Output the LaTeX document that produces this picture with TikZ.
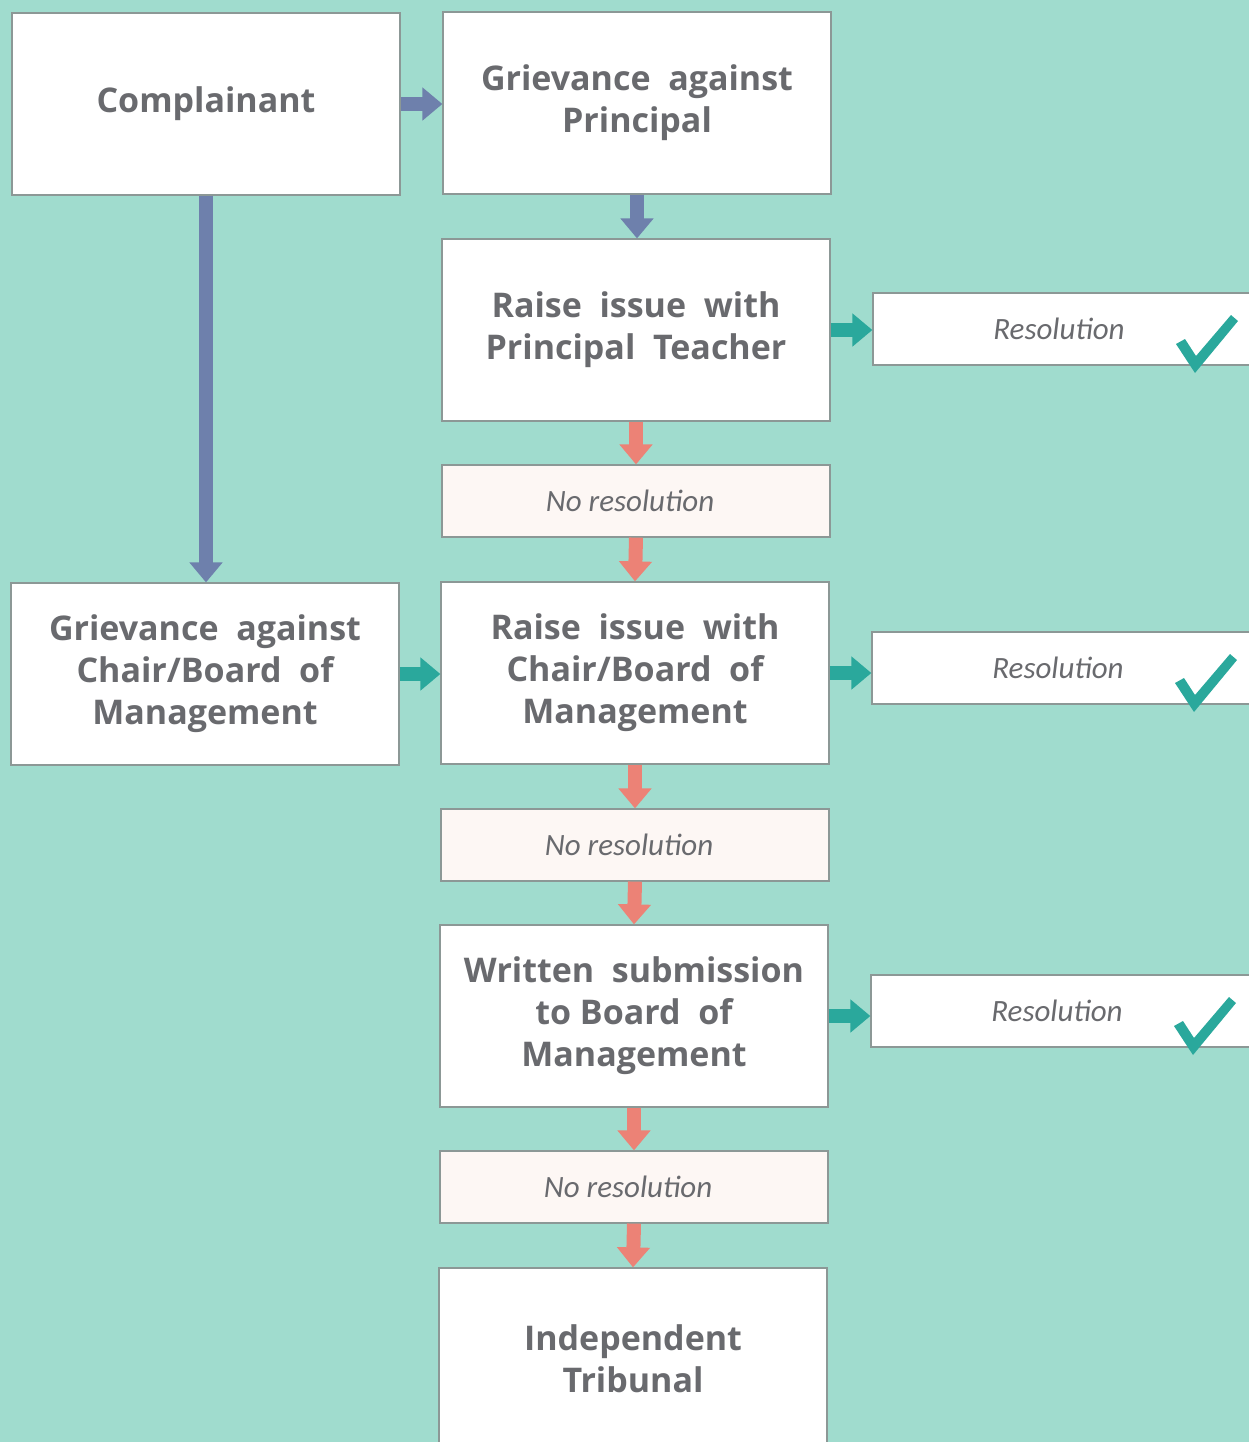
\documentclass[tikz,border=0pt]{standalone}
\usepackage{fontspec}
\setmainfont{Open Sans}
\newfontfamily\resfont{Carlito}
\usetikzlibrary{arrows.meta}

\definecolor{bgteal}{RGB}{160,220,206}
\definecolor{boxline}{RGB}{140,152,150}
\definecolor{txtgray}{RGB}{105,106,110}
\definecolor{slate}{RGB}{110,128,172}
\definecolor{salmon}{RGB}{236,130,118}
\definecolor{tealgreen}{RGB}{42,168,156}
\definecolor{pinkwhite}{RGB}{253,247,244}

\tikzset{
    stepbox/.style={draw=boxline, line width=0.6pt, fill=white,
        minimum width=194pt, minimum height=91pt, inner sep=0pt,
        align=center, text=txtgray,
        font=\bfseries\fontsize{17}{21}\selectfont},
    noresbox/.style={draw=boxline, line width=0.6pt, fill=pinkwhite,
        minimum width=194pt, minimum height=36pt, inner sep=0pt,
        text=txtgray, font=\resfont\itshape\fontsize{15.5}{18}\selectfont},
    resbox/.style={noresbox, fill=white},
    blockarrow/.style={line width=7pt, -{Triangle[width=16pt,length=10pt]}},
    slatearrow/.style={blockarrow, draw=slate},
    salmonarrow/.style={blockarrow, draw=salmon},
    tealarrow/.style={blockarrow, draw=tealgreen}
}

\begin{document}
\begin{tikzpicture}[x=0.5pt, y=-0.5pt]
% background
\fill[bgteal] (0,0) rectangle (1249,1442);
\useasboundingbox (0,0) rectangle (1249,1442);

% left column
\node[stepbox] (complainant) at (206,104) {Complainant};
\node[stepbox] (grvChair) at (205,674) {Grievance\ \ against\\Chair/Board\ \ of\\Management};

% middle column
\node[stepbox] (grvPrin) at (637,103) {Grievance\ \ against\\Principal};
\node[stepbox] (raisePrin) at (636,330) {Raise\ \ issue\ \ with\\Principal\ \ Teacher};
\node[noresbox] (nores1) at (636,501) {No resolution\hspace*{6pt}};
\node[stepbox] (raiseChair) at (635,673) {Raise\ \ issue\ \ with\\Chair/Board\ \ of\\Management};
\node[noresbox] (nores2) at (635,845) {No resolution\hspace*{6pt}};
\node[stepbox] (written) at (634,1016) {Written\ \ submission\\to Board\ \ of\\Management};
\node[noresbox] (nores3) at (634,1187) {No resolution\hspace*{6pt}};
\node[stepbox] (tribunal) at (633,1359) {Independent\\Tribunal};

% right column
\node[resbox] (res1) at (1067,329) {Resolution\hspace*{8pt}};
\node[resbox] (res2) at (1066,668) {Resolution\hspace*{8pt}};
\node[resbox] (res3) at (1065,1011) {Resolution\hspace*{8pt}};

% ticks
\foreach \r in {res1,res2,res3}
    \fill[tealgreen] ([shift={(109,15)}]\r.center) -- ([shift={(118,10)}]\r.center)
        -- ([shift={(129,27)}]\r.center) -- ([shift={(164,-14)}]\r.center)
        -- ([shift={(171,-8)}]\r.center) -- ([shift={(128,44)}]\r.center) -- cycle;

% connectors
\draw[slatearrow] (complainant.east) -- (complainant.east -| grvPrin.west);
\draw[slatearrow] (complainant.south) -- (complainant.south |- grvChair.north);
\draw[slatearrow] (grvPrin.south) -- (grvPrin.south |- raisePrin.north);
\draw[tealarrow] (grvChair.east) -- (grvChair.east -| raiseChair.west);

\draw[salmonarrow] (raisePrin.south) -- (nores1.north);
\draw[salmonarrow] (nores1.south) -- (raiseChair.north);
\draw[salmonarrow] (raiseChair.south) -- (nores2.north);
\draw[salmonarrow] (nores2.south) -- (written.north);
\draw[salmonarrow] (written.south) -- (nores3.north);
\draw[salmonarrow] (nores3.south) -- (tribunal.north);

\draw[tealarrow] (raisePrin.east) -- (raisePrin.east -| res1.west);
\draw[tealarrow] (raiseChair.east) -- (raiseChair.east -| res2.west);
\draw[tealarrow] (written.east) -- (written.east -| res3.west);
\end{tikzpicture}
\end{document}
